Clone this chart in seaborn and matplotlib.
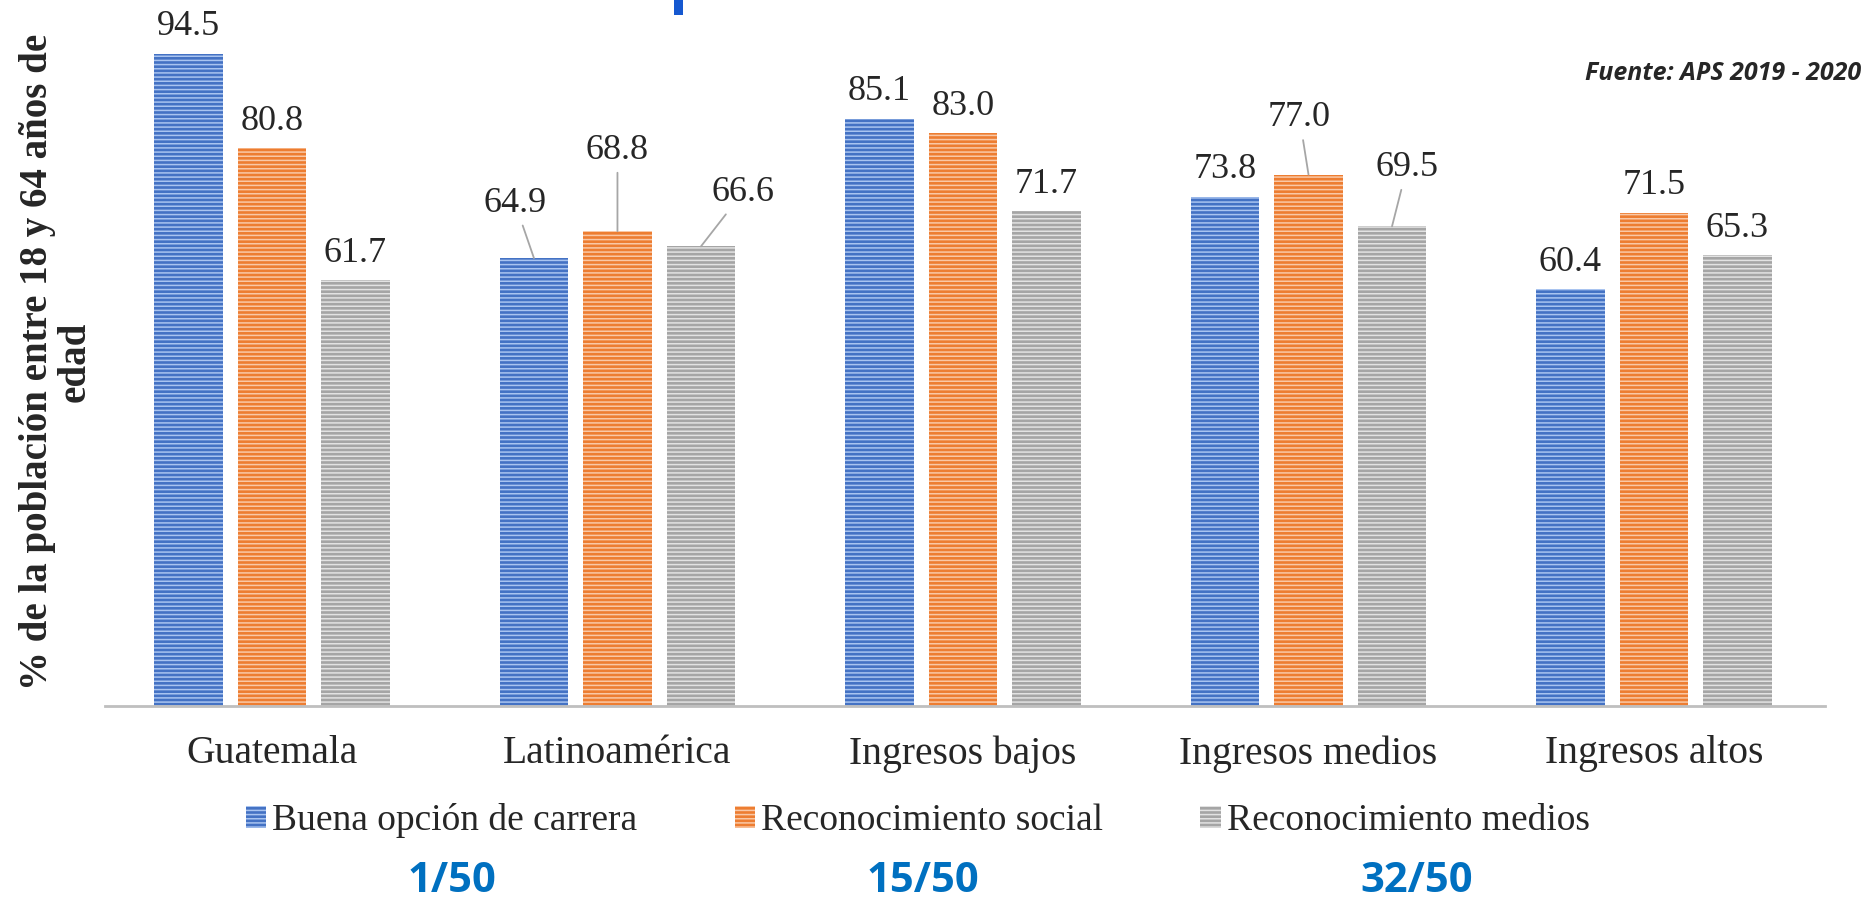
import pandas as pd
import matplotlib.pyplot as plt
import matplotlib.patches as mpatches
import seaborn as sns

# Data
categorias = ["Guatemala", "Latinoamérica", "Ingresos bajos", "Ingresos medios", "Ingresos altos"]
series = ["Buena opción de carrera", "Reconocimiento social", "Reconocimiento medios"]
buena_opcion = [94.5, 64.9, 85.1, 73.8, 60.4]
reconocimiento_social = [80.8, 68.8, 83.0, 77.0, 71.5]
reconocimiento_medios = [61.7, 66.6, 71.7, 69.5, 65.3]
ranking = ["1/50", "15/50", "32/50"]
fuente = "Fuente: APS 2019 - 2020"
ylabel = "% de la población entre 18 y 64 años de\nedad"

df = pd.DataFrame({
    "categoria": categorias * 3,
    "serie": [s for s in series for _ in categorias],
    "valor": buena_opcion + reconocimiento_social + reconocimiento_medios,
})

colors = ["#4472C4", "#ED7D31", "#A5A5A5"]
stripes = ["#A9C4F0", "#F9C8A6", "#E2E2E2"]

sns.set_style("white")
plt.rcParams["font.family"] = ["Liberation Serif", "DejaVu Serif"]
plt.rcParams["hatch.linewidth"] = 1.1

fig, ax = plt.subplots(figsize=(18.69, 8.99), dpi=100)
fig.subplots_adjust(left=0.0562, right=0.9765, bottom=0.2147, top=1.0)

sns.barplot(data=df, x="categoria", y="valor", hue="serie", palette=colors,
            width=0.725, gap=0.18, saturation=1, ax=ax, legend=False)

for cont, light in zip(ax.containers, stripes):
    for bar in cont:
        bar.set_edgecolor(light)
        bar.set_linewidth(0)
        bar.set_hatch("----")

# label offsets (pixels) for labels moved off their bars, drawn with leader lines
leader = {
    (1, 0): (-19, 55), (1, 1): (0, 81), (1, 2): (42, 54),
    (3, 1): (-9, 57), (3, 2): (15, 59),
}
for j, cont in enumerate(ax.containers):
    for i, bar in enumerate(cont):
        x = bar.get_x() + bar.get_width() / 2
        h = bar.get_height()
        if (i, j) in leader:
            dx, dy = leader[(i, j)]
            ax.annotate(f"{h:.1f}", xy=(x, h), xytext=(dx, dy), textcoords="offset pixels",
                        ha="center", va="center", fontsize=26,
                        arrowprops=dict(arrowstyle="-", color="#A6A6A6", lw=1.3,
                                        shrinkA=2, shrinkB=0))
        else:
            ax.annotate(f"{h:.1f}", xy=(x, h), xytext=(0, 27), textcoords="offset pixels",
                        ha="center", va="center", fontsize=26)

ax.set_ylim(0, 102.3)
ax.set_xlim(-0.483, 4.495)
ax.set_xlabel("")
ax.set_ylabel("")
ax.set_yticks([])
ax.tick_params(axis="x", length=0, pad=21, labelsize=28.5)
sns.despine(ax=ax, left=True, top=True, right=True)
ax.spines["bottom"].set_color("#BFBFBF")
ax.spines["bottom"].set_linewidth(2)

fig.text(0.030, 0.597, ylabel, rotation=90, ha="center", va="center",
         fontsize=28, fontweight="bold", multialignment="center", linespacing=1.02)

handles = [mpatches.Patch(facecolor=c, edgecolor=l, linewidth=0, hatch="----")
           for c, l in zip(colors, stripes)]
fig.legend(handles, series, loc="center", bbox_to_anchor=(0.491, 0.087), ncol=3,
           frameon=False, fontsize=27, handlelength=0.55, handleheight=0.55,
           handletextpad=0.15, columnspacing=2.6)

fig.text(0.996, 0.918, fuente, ha="right", va="center", fontsize=18,
         fontweight="bold", style="italic", family="Open Sans")

for txt, xpos in zip(ranking, [0.242, 0.494, 0.758]):
    fig.text(xpos, 0.019, txt, ha="center", va="center", fontsize=30,
             fontweight="bold", color="#0070C0", family="Open Sans")

fig.patches.append(mpatches.Rectangle((0.3606, 0.983), 0.0048, 0.017, transform=fig.transFigure,
                                      facecolor="#1558D0", edgecolor="none"))

fig.savefig("out.png", dpi=100)
